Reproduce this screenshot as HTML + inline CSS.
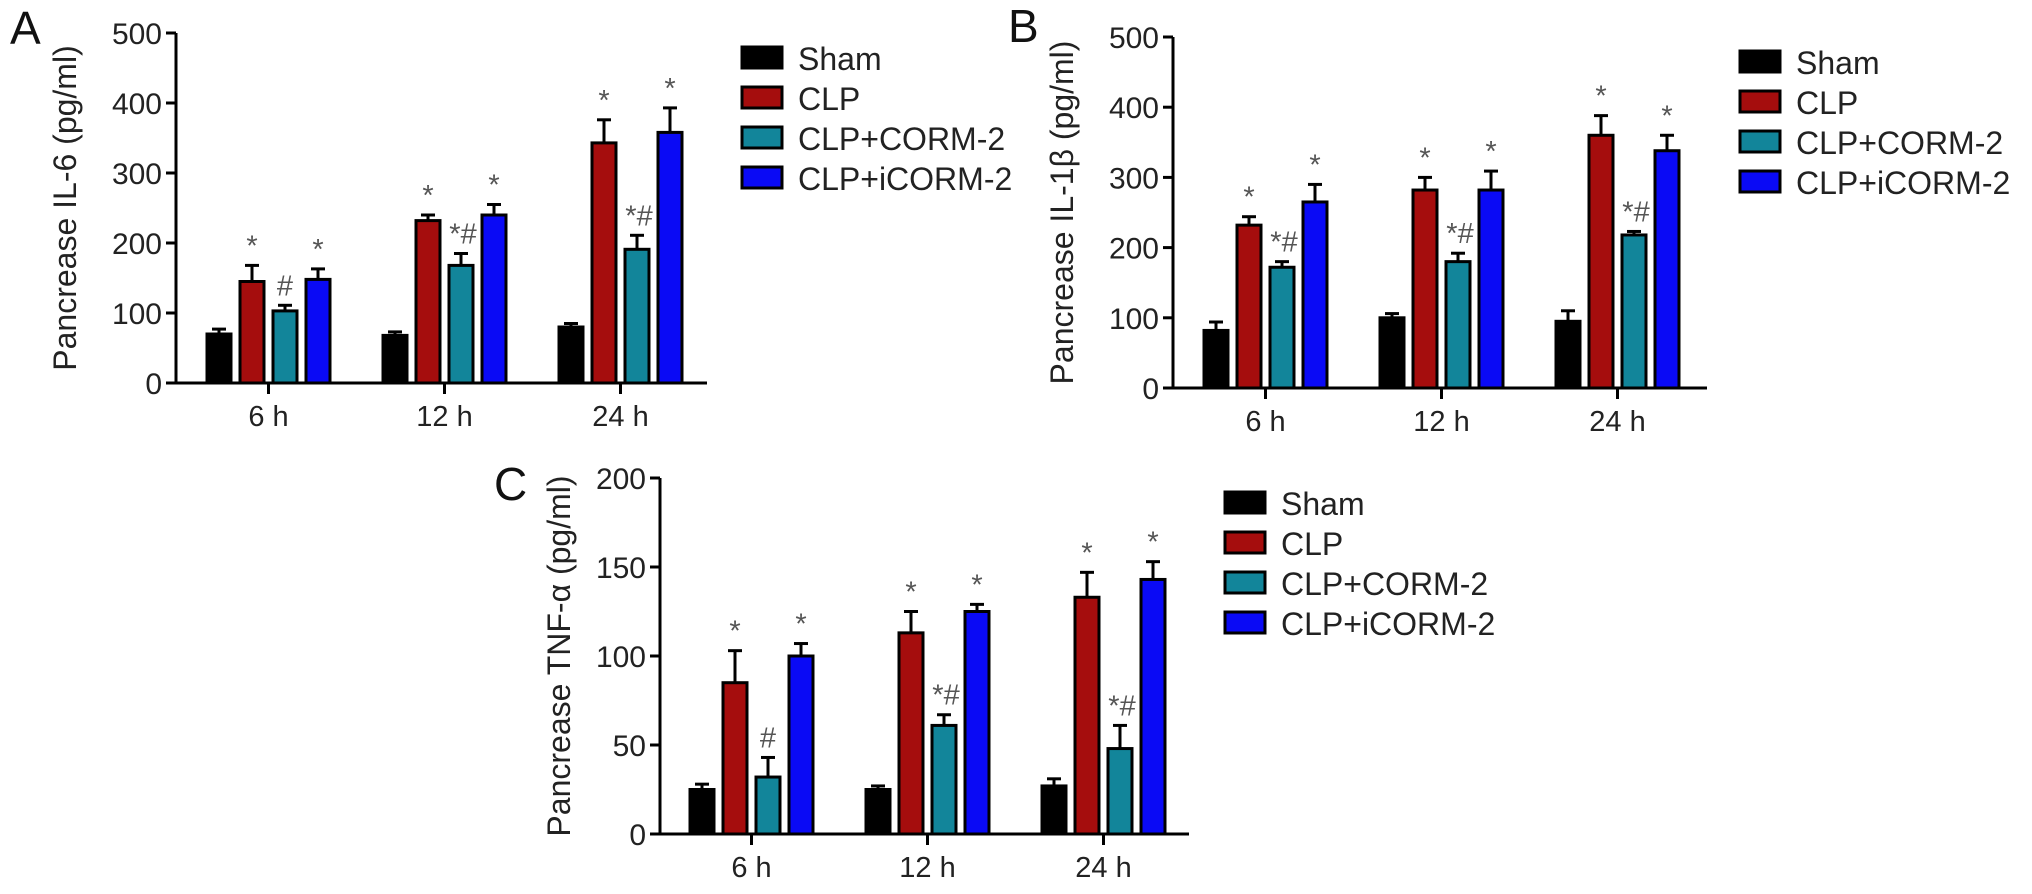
<!DOCTYPE html>
<html><head><meta charset="utf-8"><style>
body{margin:0;background:#fff}
svg{display:block;font-family:"Liberation Sans",Arial,sans-serif}
</style></head><body>
<svg id="fig" width="2032" height="894" viewBox="0 0 2032 894"></svg>
<script>
const groups = ["6 h","12 h","24 h"];
const seriesNames = ["Sham","CLP","CLP+CORM-2","CLP+iCORM-2"];
const colors = ["#000000","#a50d0d","#12859a","#0a0af5"];
// Panel A IL-6
const aMeans = [[70,68,80],[145,232,343],[103,168,191],[148,240,358]];
const aErr = [[7,5,5],[23,8,33],[8,17,20],[15,15,35]];
const aMarks = [["","",""],["*","*","*"],["#","*#","*#"],["*","*","*"]];
const aTicks = [0,100,200,300,400,500];
// Panel B IL-1β
const bMeans = [[82,100,95],[232,282,360],[172,180,218],[265,282,338]];
const bErr = [[12,6,15],[12,18,28],[8,12,5],[25,27,22]];
const bMarks = [["","",""],["*","*","*"],["*#","*#","*#"],["*","*","*"]];
const bTicks = [0,100,200,300,400,500];
// Panel C TNF-α
const cMeans = [[25,25,27],[85,113,133],[32,61,48],[100,125,143]];
const cErr = [[3,2,4],[18,12,14],[11,6,13],[7,4,10]];
const cMarks = [["","",""],["*","*","*"],["#","*#","*#"],["*","*","*"]];
const cTicks = [0,50,100,150,200];

const NS="http://www.w3.org/2000/svg";
const svg=document.getElementById('fig');
function mk(tag,attrs,parent,text){const e=document.createElementNS(NS,tag);for(const k in attrs)e.setAttribute(k,attrs[k]);if(text!==undefined)e.textContent=text;(parent||svg).appendChild(e);return e;}

function panel(cfg,means,errs,marks,ticks){
  const g=mk('g',{});
  
  
  const yMax=ticks[ticks.length-1];
  const y=v=>cfg.y0-(v/yMax)*(cfg.y0-cfg.yTop);
  const barW=24, step=33, gStep=176;
  const x=(gi,si)=>cfg.firstBar+gi*gStep+si*step;
  const ya=mk('line',{x1:cfg.ax,y1:y(yMax),x2:cfg.ax,y2:cfg.y0+1.5,stroke:'#000','stroke-width':3},g);
  
  const xa=mk('line',{x1:cfg.ax-1.5,y1:cfg.y0,x2:cfg.axEnd,y2:cfg.y0,stroke:'#000','stroke-width':3},g);
  
  ticks.forEach(t=>{
    mk('line',{x1:cfg.ax-10,y1:y(t),x2:cfg.ax,y2:y(t),stroke:'#000','stroke-width':3},g);
    const tl=mk('text',{x:cfg.ax-14,y:y(t)+11,'text-anchor':'end','font-size':30,fill:'#222'},g,String(t));
    
  });
  groups.forEach((gn,gi)=>{
    const cx=x(gi,0)+(3*step+barW)/2;
    mk('line',{x1:cx,y1:cfg.y0,x2:cx,y2:cfg.y0+11,stroke:'#000','stroke-width':3},g);
    const xl=mk('text',{x:cx,y:cfg.y0+43,'text-anchor':'middle','font-size':29,fill:'#222'},g,gn);
    
  });
  means.forEach((ser,si)=>{
    ser.forEach((v,gi)=>{
      const bx=x(gi,si), top=y(v), et=y(v+errs[si][gi]), cx=bx+barW/2;
      mk('line',{x1:cx,y1:top,x2:cx,y2:et,stroke:'#000','stroke-width':3},g);
      mk('line',{x1:cx-7,y1:et,x2:cx+7,y2:et,stroke:'#000','stroke-width':3},g);
      const r=mk('rect',{x:bx,y:top,width:barW,height:cfg.y0-top,fill:colors[si],stroke:'#000','stroke-width':3},g);
      
      
      const m=marks[si][gi];
      if(m){
        const t=mk('text',{x:cx+(m.length>1?2:0),y:et-10,'text-anchor':'middle','font-size':29,fill:'#555'},g,m);
        
        
      }
    });
  });
  const my=(cfg.y0+y(yMax))/2;
  const tt=mk('text',{x:cfg.titleX,y:my,'text-anchor':'middle','font-size':32,fill:'#222',transform:`rotate(-90 ${cfg.titleX} ${my})`},g,cfg.title);
  
  const lt=mk('text',{x:cfg.letterX,y:cfg.letterY,'font-size':46,fill:'#111'},g,cfg.letter);
  
  seriesNames.forEach((n,si)=>{
    const ly=cfg.legY+si*40;
    const b=mk('rect',{x:cfg.legX,y:ly,width:40,height:21,fill:colors[si],stroke:'#000','stroke-width':3},g);
    
    const t=mk('text',{x:cfg.legX+56,y:ly+23,'font-size':32,fill:'#222'},g,n);
    
  });
}
panel({id:'a',ax:176,axEnd:707,y0:383,yTop:33,firstBar:207,titleX:76,title:'Pancrease IL-6 (pg/ml)',letter:'A',letterX:10,letterY:44,legX:742,legY:47},aMeans,aErr,aMarks,aTicks);
panel({id:'b',ax:1173,axEnd:1707,y0:388,yTop:37,firstBar:1204,titleX:1073,title:'Pancrease IL-1β (pg/ml)',letter:'B',letterX:1008,letterY:42,legX:1740,legY:51},bMeans,bErr,bMarks,bTicks);
panel({id:'c',ax:660,axEnd:1189,y0:834,yTop:478,firstBar:690,titleX:570,title:'Pancrease TNF-α (pg/ml)',letter:'C',letterX:494,letterY:500,legX:1225,legY:492},cMeans,cErr,cMarks,cTicks);
</script>
</body></html>
